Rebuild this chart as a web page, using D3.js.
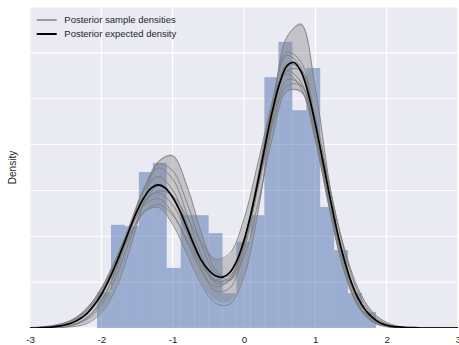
<!DOCTYPE html>
<html>
<head>
<meta charset="utf-8">
<script src="https://cdn.jsdelivr.net/npm/d3@7"></script>
<style>
  body { margin: 0; background: #fff; }
  svg { display: block; }
  text { font-family: "Liberation Sans", Arial, sans-serif; fill: #262626; }
</style>
</head>
<body>
<svg id="chart" width="459" height="345"></svg>
<script>
// Axis ticks
const xTicks = [-3, -2, -1, 0, 1, 2, 3];
const yTicks = [0, 0.1, 0.2, 0.3, 0.4, 0.5, 0.6, 0.7];

// Histogram of the standardized observations (20 bins, density-normalised)
const binEdges = [-2.060, -1.865, -1.669, -1.474, -1.278, -1.083, -0.887, -0.692, -0.496, -0.301,
                  -0.105, 0.091, 0.286, 0.482, 0.677, 0.873, 1.068, 1.264, 1.459, 1.655, 1.850];
const binDensity = [0.078, 0.225, 0.222, 0.340, 0.360, 0.131, 0.246, 0.246, 0.207, 0.076,
                    0.188, 0.246, 0.547, 0.624, 0.475, 0.567, 0.264, 0.170, 0.076, 0.035];

// Evaluation grid of the posterior expected density
const gridFine = [-3.0, -2.9, -2.8, -2.7, -2.6, -2.5, -2.4, -2.3, -2.2, -2.1,
                  -2.0, -1.9, -1.8, -1.7, -1.6, -1.5, -1.4, -1.3, -1.2, -1.1,
                  -1.0, -0.9, -0.8, -0.7, -0.6, -0.5, -0.4, -0.3, -0.2, -0.1,
                  0.0, 0.1, 0.2, 0.3, 0.4, 0.5, 0.6, 0.7, 0.8, 0.9,
                  1.0, 1.1, 1.2, 1.3, 1.4, 1.5, 1.6, 1.7, 1.8, 1.9,
                  2.0, 2.1, 2.2, 2.3, 2.4, 2.5, 2.6, 2.7, 2.8, 2.9, 3.0];
const expectedDensity = [0, 0, 0.001, 0.002, 0.004, 0.007, 0.012, 0.020, 0.032, 0.050,
                         0.073, 0.103, 0.138, 0.177, 0.217, 0.255, 0.285, 0.305, 0.312, 0.305,
                         0.285, 0.256, 0.219, 0.181, 0.148, 0.127, 0.114, 0.111, 0.121, 0.147,
                         0.191, 0.251, 0.323, 0.401, 0.475, 0.534, 0.571, 0.579, 0.559, 0.512,
                         0.445, 0.368, 0.289, 0.215, 0.152, 0.102, 0.065, 0.040, 0.023, 0.012,
                         0.006, 0.003, 0.002, 0.001, 0.001, 0, 0, 0, 0, 0, 0];

// Evaluation grid of the posterior samples and the credible band
const gridCoarse = [-3.0, -2.8, -2.6, -2.4, -2.2, -2.0, -1.8, -1.6, -1.4, -1.2,
                    -1.0, -0.8, -0.6, -0.4, -0.2, 0.0, 0.2, 0.4, 0.6, 0.8,
                    1.0, 1.2, 1.4, 1.6, 1.8, 2.0, 2.2, 2.4, 2.6, 2.8, 3.0];
const bandLow  = [0, 0, 0.001, 0.004, 0.012, 0.036, 0.088, 0.175, 0.252, 0.262,
                  0.228, 0.163, 0.100, 0.060, 0.058, 0.115, 0.258, 0.418, 0.515, 0.512,
                  0.407, 0.256, 0.124, 0.046, 0.013, 0.003, 0, 0, 0, 0, 0];
const bandHigh = [0.001, 0.003, 0.008, 0.019, 0.044, 0.088, 0.152, 0.228, 0.308, 0.365,
                  0.378, 0.312, 0.210, 0.150, 0.160, 0.235, 0.362, 0.498, 0.635, 0.665,
                  0.525, 0.315, 0.178, 0.087, 0.036, 0.012, 0.003, 0.001, 0, 0, 0];

const sample1  = [0, 0, 0.001, 0.003, 0.010, 0.033, 0.084, 0.172, 0.279, 0.362, 0.375, 0.310, 0.209, 0.127, 0.104, 0.156, 0.274, 0.416, 0.516, 0.516, 0.415, 0.270, 0.141, 0.059, 0.020, 0.006, 0.001, 0, 0, 0, 0];
const sample2  = [0, 0, 0.002, 0.007, 0.022, 0.058, 0.123, 0.214, 0.305, 0.357, 0.343, 0.273, 0.183, 0.120, 0.115, 0.181, 0.308, 0.450, 0.541, 0.530, 0.422, 0.274, 0.144, 0.062, 0.022, 0.006, 0.001, 0, 0, 0, 0];
const sample3  = [0, 0, 0.002, 0.007, 0.023, 0.059, 0.126, 0.217, 0.305, 0.349, 0.325, 0.248, 0.159, 0.103, 0.107, 0.184, 0.322, 0.471, 0.560, 0.536, 0.413, 0.257, 0.128, 0.052, 0.017, 0.004, 0.001, 0, 0, 0, 0];
const sample4  = [0, 0.001, 0.003, 0.011, 0.031, 0.073, 0.141, 0.226, 0.300, 0.330, 0.301, 0.228, 0.148, 0.098, 0.103, 0.179, 0.317, 0.474, 0.575, 0.563, 0.444, 0.282, 0.144, 0.059, 0.020, 0.005, 0.001, 0, 0, 0, 0];
const sample5  = [0.001, 0.002, 0.007, 0.018, 0.043, 0.087, 0.151, 0.221, 0.277, 0.295, 0.268, 0.209, 0.144, 0.102, 0.111, 0.190, 0.335, 0.497, 0.594, 0.568, 0.432, 0.263, 0.127, 0.049, 0.015, 0.004, 0.001, 0, 0, 0, 0];
const sample6  = [0, 0.001, 0.005, 0.015, 0.038, 0.081, 0.143, 0.214, 0.268, 0.282, 0.250, 0.188, 0.125, 0.090, 0.105, 0.182, 0.313, 0.461, 0.561, 0.561, 0.460, 0.310, 0.172, 0.078, 0.029, 0.009, 0.002, 0.001, 0, 0, 0];
const sample7  = [0, 0.002, 0.006, 0.017, 0.040, 0.080, 0.138, 0.202, 0.253, 0.270, 0.246, 0.193, 0.137, 0.105, 0.120, 0.192, 0.311, 0.442, 0.528, 0.528, 0.441, 0.307, 0.178, 0.086, 0.035, 0.012, 0.003, 0.001, 0, 0, 0];
const sample8  = [0, 0.001, 0.004, 0.012, 0.033, 0.073, 0.133, 0.202, 0.253, 0.263, 0.226, 0.161, 0.096, 0.054, 0.052, 0.112, 0.256, 0.461, 0.634, 0.661, 0.522, 0.313, 0.142, 0.049, 0.013, 0.003, 0, 0, 0, 0, 0];
const sample9  = [0, 0, 0.001, 0.006, 0.019, 0.050, 0.110, 0.192, 0.272, 0.310, 0.284, 0.211, 0.130, 0.080, 0.087, 0.168, 0.318, 0.492, 0.601, 0.580, 0.441, 0.264, 0.125, 0.047, 0.014, 0.003, 0.001, 0, 0, 0, 0];
const sample10 = [0.001, 0.003, 0.008, 0.019, 0.044, 0.086, 0.145, 0.213, 0.271, 0.299, 0.288, 0.242, 0.187, 0.150, 0.163, 0.238, 0.363, 0.488, 0.554, 0.523, 0.409, 0.265, 0.142, 0.063, 0.023, 0.007, 0.002, 0, 0, 0, 0];
const samples = [sample1, sample2, sample3, sample4, sample5, sample6, sample7, sample8, sample9, sample10];

const legendLabels = ["Posterior sample densities", "Posterior expected density"];

// ---- layout ----
const plot = { left: 30, right: 458, top: 7, bottom: 328 };

const svg = d3.select("#chart");
const x = d3.scaleLinear().domain([-3, 3]).range([plot.left, plot.right]);
const y = d3.scaleLinear().domain([0, 0.7]).range([plot.bottom, plot.top]);

svg.append("defs").append("clipPath").attr("id", "plotClip")
  .append("rect")
  .attr("x", plot.left).attr("y", plot.top)
  .attr("width", plot.right - plot.left).attr("height", plot.bottom - plot.top);

// background
svg.append("rect")
  .attr("x", plot.left).attr("y", plot.top)
  .attr("width", plot.right - plot.left).attr("height", plot.bottom - plot.top)
  .attr("fill", "#EAEAF2");

// grid
const grid = svg.append("g").attr("stroke", "#fff").attr("stroke-width", 1.1);
grid.selectAll("line.v").data(xTicks).join("line").attr("class", "v")
  .attr("x1", d => x(d)).attr("x2", d => x(d))
  .attr("y1", plot.top).attr("y2", plot.bottom);
grid.selectAll("line.h").data(yTicks).join("line").attr("class", "h")
  .attr("x1", plot.left).attr("x2", plot.right)
  .attr("y1", d => y(d)).attr("y2", d => y(d));

const body = svg.append("g").attr("clip-path", "url(#plotClip)");

// histogram
const bins = binDensity.map((v, i) => ({ x0: binEdges[i], x1: binEdges[i + 1], v }));
body.append("g").selectAll("rect").data(bins).join("rect")
  .attr("x", d => x(d.x0))
  .attr("width", d => x(d.x1) - x(d.x0))
  .attr("y", d => y(d.v))
  .attr("height", d => y(0) - y(d.v))
  .attr("fill", "#4C72B0")
  .attr("fill-opacity", 0.5);

// credible band
const band = d3.area()
  .x((d, i) => x(gridCoarse[i]))
  .y0((d, i) => y(bandLow[i]))
  .y1((d, i) => y(bandHigh[i]))
  .curve(d3.curveCatmullRom.alpha(0.5));
body.append("path").datum(bandLow)
  .attr("d", band)
  .attr("fill", "#808080")
  .attr("fill-opacity", 0.38);

// posterior sample densities
const sampleLine = d3.line()
  .x((d, i) => x(gridCoarse[i]))
  .y(d => y(d))
  .curve(d3.curveCatmullRom.alpha(0.5));
body.append("g").selectAll("path").data(samples).join("path")
  .attr("d", sampleLine)
  .attr("fill", "none")
  .attr("stroke", "#808080")
  .attr("stroke-opacity", 0.9)
  .attr("stroke-width", 1.0);

// posterior expected density
const meanLine = d3.line()
  .x((d, i) => x(gridFine[i]))
  .y(d => y(d))
  .curve(d3.curveCatmullRom.alpha(0.5));
body.append("path").datum(expectedDensity)
  .attr("d", meanLine)
  .attr("fill", "none")
  .attr("stroke", "#000")
  .attr("stroke-width", 1.7);

// x axis labels (no tick marks, no spine)
const xAxis = d3.axisBottom(x).tickValues(xTicks).tickSize(0).tickPadding(7.7)
  .tickFormat(d3.format("d"));
const gx = svg.append("g").attr("transform", `translate(0,${plot.bottom})`).call(xAxis);
gx.select(".domain").remove();
gx.selectAll("text")
  .attr("font-size", "9.8px")
  .style("font-family", '"Liberation Sans", Arial, sans-serif')
  .attr("fill", "#262626")
  .text(d => (d < 0 ? "-" + Math.abs(d) : String(d)));

// y label
svg.append("text")
  .attr("transform", `translate(16.3,${(plot.top + plot.bottom) / 2}) rotate(-90)`)
  .attr("text-anchor", "middle")
  .attr("font-size", "10px")
  .text("Density");

// legend
const legend = svg.append("g");
const legendItems = [
  { label: legendLabels[0], color: "#808080", width: 1.5, y: 20 },
  { label: legendLabels[1], color: "#000", width: 2, y: 34 }
];
legend.selectAll("line").data(legendItems).join("line")
  .attr("x1", 36.7).attr("x2", 56.7)
  .attr("y1", d => d.y).attr("y2", d => d.y)
  .attr("stroke", d => d.color)
  .attr("stroke-width", d => d.width);
legend.selectAll("text").data(legendItems).join("text")
  .attr("x", 64.3)
  .attr("y", d => d.y + 3.3)
  .attr("font-size", "9.5px")
  .text(d => d.label);
</script>
</body>
</html>
